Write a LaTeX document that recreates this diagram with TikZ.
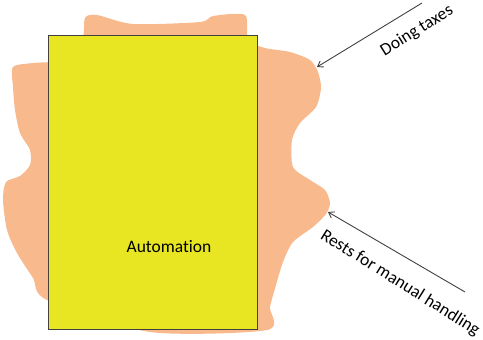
\documentclass[tikz,border=0pt]{standalone}
\usepackage{fontspec}
\setmainfont{Carlito}[Ligatures=NoCommon]
\usepackage{xcolor}
\usetikzlibrary{arrows.meta}

\definecolor{blobfill}{RGB}{248,185,140}
\definecolor{autofill}{RGB}{232,230,34}
\definecolor{arrowgray}{RGB}{64,64,64}

\begin{document}
\begin{tikzpicture}[x=1pt, y=-1pt,
	blob/.style={fill=blobfill, draw=none},
	autobox/.style={fill=autofill, draw=black!75, line width=0.8pt},
	pointer/.style={draw=arrowgray, line width=0.9pt, -{Straight Barb[length=5pt,width=7pt]}},
	lbl/.style={font=\fontsize{17.5}{19}\selectfont, text=black, inner sep=0pt}]
	\useasboundingbox (0,0) rectangle (483,340);
	% tasks that are still handled by people
	\fill[blob] plot[smooth cycle, tension=0.45] coordinates {
		(82,40) (85,18) (97,15) (133,24) (200,22) (213,16) (245,15) (248,40)
		(265,48) (290,52) (310,60) (318,72) (321,88) (316,107) (300,123) (292,140)
		(293,167) (310,180) (325,190) (330,203) (326,214) (313,227) (293,242) (283,262)
		(276,285) (270,307) (267,330) (150,332) (47,300) (33,278) (17,253) (7,230)
		(3,200) (6,182) (20,176) (30,165) (30,150) (20,133) (15,110) (13,87)
		(13,67) (33,63) (60,60) (60,40)};
	% the automated part
	\draw[autobox] (48,35) rectangle (257,329);
	\node[lbl] (auto) at (169,247) {Automation};
	% pointers to the edge of the blob
	\coordinate (taxesTail) at (422,3);
	\coordinate (taxesTip) at (317,67);
	\coordinate (restTail) at (465,292);
	\coordinate (restTip) at (328,212);
	\draw[pointer] (taxesTail) -- (taxesTip);
	\draw[pointer] (restTail) -- (restTip);
	\node[lbl, rotate=32] (taxes) at (417,31) {Doing taxes};
	\node[lbl, rotate=-32] (rests) at (400,283) {Rests for manual handling};
\end{tikzpicture}
\end{document}
